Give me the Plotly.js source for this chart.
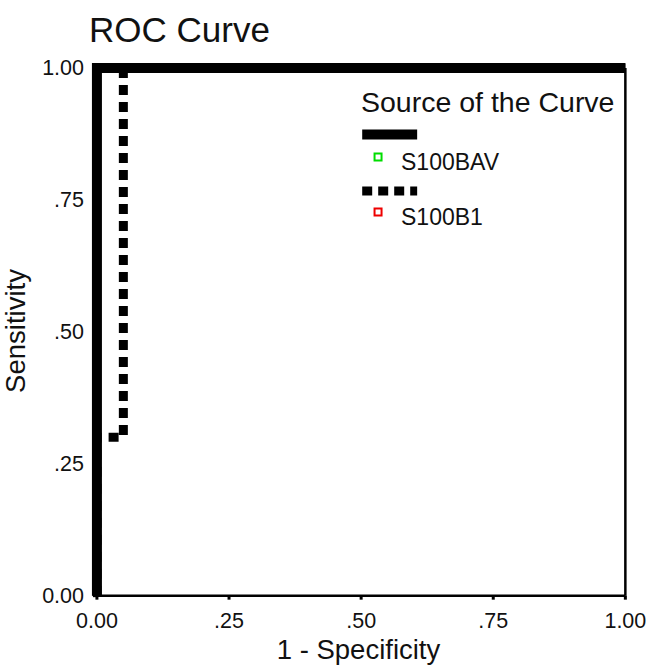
<!DOCTYPE html>
<html>
<head>
<meta charset="utf-8">
<script src="https://cdn.plot.ly/plotly-3.0.1.min.js"></script>
<style>html,body{margin:0;padding:0;background:#fff;}#chart{width:646px;height:668px;}</style>
</head>
<body>
<div id="chart"></div>
<script>
// Data
var seriesNames = ["S100BAV", "S100B1"];
var s100bavX = [0, 0, 1];
var s100bavY = [0, 1, 1];
var s100b1X = [0, 0, 0.05, 0.05, 1];
var s100b1Y = [0, 0.30, 0.30, 1, 1];
var tickVals = [0, 0.25, 0.5, 0.75, 1];
var tickText = ["0.00", ".25", ".50", ".75", "1.00"];
var legendColors = ["#00dd00", "#ee0000"];

var FONT = "Liberation Sans, Arial, sans-serif";
var DOT = "10px,7px";

var traces = [
  {x: s100b1X, y: s100b1Y, mode: "lines", name: seriesNames[1],
   line: {color: "#000", width: 9, dash: DOT}, hoverinfo: "skip"},
  {x: s100bavX, y: s100bavY, mode: "lines", name: seriesNames[0],
   line: {color: "#000", width: 10}, hoverinfo: "skip"}
];

var shapes = [
  // frame
  {type: "line", xref: "x", yref: "y", x0: 1, x1: 1, y0: 0, y1: 1, line: {color: "#000", width: 2.5}, layer: "below"},
  {type: "line", xref: "x", yref: "y", x0: 0, x1: 1, y0: 0, y1: 0, line: {color: "#000", width: 2.5}, layer: "below"},
  // legend lines
  {type: "line", xref: "x", yref: "y", x0: 0.502, x1: 0.606, y0: 0.874, y1: 0.874, line: {color: "#000", width: 10}},
  {type: "line", xref: "x", yref: "y", x0: 0.502, x1: 0.606, y0: 0.767, y1: 0.767, line: {color: "#000", width: 9, dash: "10px,6px"}}
];
// tick nubs
tickVals.forEach(function (v) {
  shapes.push({type: "line", xref: "x", yref: "y", ysizemode: "pixel", yanchor: 0,
    x0: v, x1: v, y0: 0, y1: -4, line: {color: "#000", width: 3}});
  shapes.push({type: "line", xref: "x", yref: "y", xsizemode: "pixel", xanchor: 0,
    x0: 0, x1: -4, y0: v, y1: v, line: {color: "#000", width: 3}});
});
// legend markers
var legendMarkerY = [0.831, 0.727];
legendColors.forEach(function (c, i) {
  shapes.push({type: "rect", xref: "x", yref: "y", xsizemode: "pixel", ysizemode: "pixel",
    xanchor: 0.532, yanchor: legendMarkerY[i], x0: -3.5, x1: 3.5, y0: -3.5, y1: 3.5,
    line: {color: c, width: 2}, fillcolor: "#fff"});
});

var annotations = [
  {xref: "x", yref: "y", x: 0.496, y: 0.936, xanchor: "left", yanchor: "middle", showarrow: false,
   text: "Source of the Curve", font: {family: FONT, size: 28.5, color: "#111"}},
  {xref: "x", yref: "y", x: 0.571, y: 0.822, xanchor: "left", yanchor: "middle", showarrow: false,
   text: seriesNames[0], font: {family: FONT, size: 23, color: "#111"}},
  {xref: "x", yref: "y", x: 0.571, y: 0.718, xanchor: "left", yanchor: "middle", showarrow: false,
   text: seriesNames[1], font: {family: FONT, size: 23, color: "#111"}}
];

var layout = {
  width: 646, height: 668,
  margin: {l: 89, r: 18, t: 60, b: 66, pad: 0},
  paper_bgcolor: "#fff", plot_bgcolor: "#fff",
  showlegend: false,
  title: {text: "ROC Curve", x: 89 / 646, xanchor: "left", xref: "container", y: 0.955, yref: "container", yanchor: "middle",
          font: {family: FONT, size: 35, color: "#111"}},
  xaxis: {range: [-0.015, 1.005], showgrid: false, zeroline: false, showline: false,
          tickvals: tickVals, ticktext: tickText, ticks: "", ticklabelstandoff: 3,
          ticklabeloverflow: "allow",
          tickfont: {family: FONT, size: 21.5, color: "#111"},
          title: {text: "1 - Specificity", font: {family: FONT, size: 27.5, color: "#111"}, standoff: 8}},
  yaxis: {range: [-0.012, 1.015], showgrid: false, zeroline: false, showline: false,
          tickvals: tickVals, ticktext: tickText, ticks: "", ticklabelstandoff: 4,
          ticklabeloverflow: "allow",
          tickfont: {family: FONT, size: 21.5, color: "#111"},
          title: {text: "Sensitivity", font: {family: FONT, size: 27.5, color: "#111"}, standoff: 8}},
  shapes: shapes,
  annotations: annotations
};

Plotly.newPlot("chart", traces, layout, {displayModeBar: false, staticPlot: true});
</script>
</body>
</html>
